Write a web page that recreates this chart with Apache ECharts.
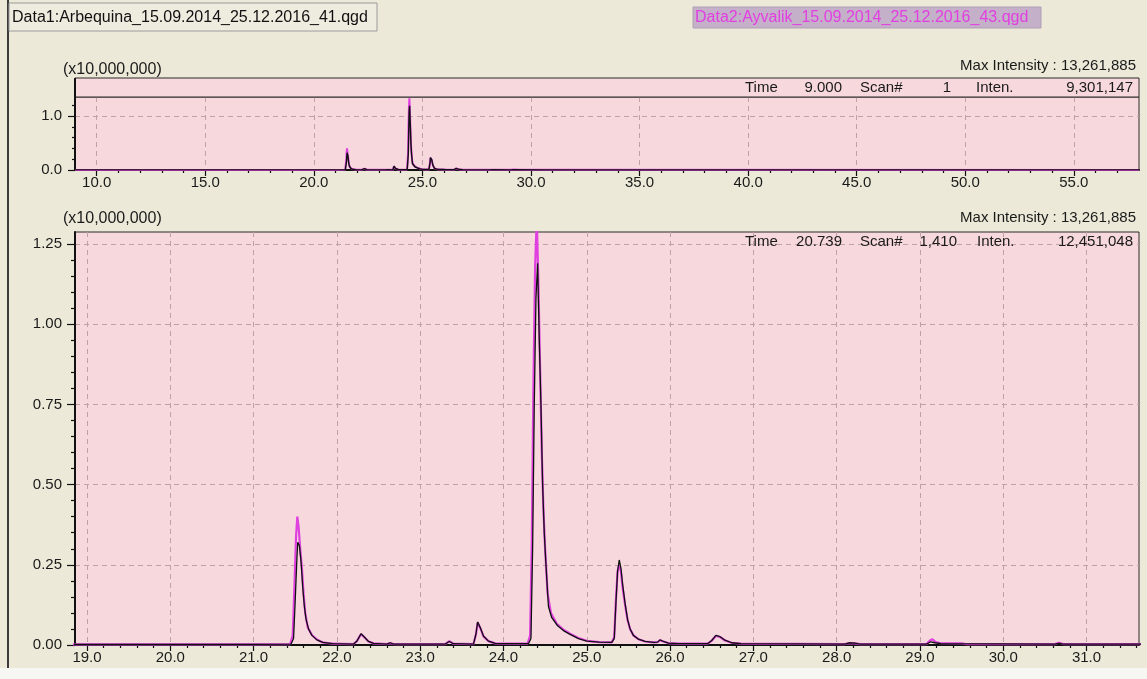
<!DOCTYPE html>
<html><head><meta charset="utf-8">
<script src="https://cdn.jsdelivr.net/npm/echarts@6/dist/echarts.min.js"></script>
<style>html,body{margin:0;padding:0;background:#ECE9D8;}#c{width:1147px;height:679px;}</style>
</head><body><div id="c"></div>
<script>
// Intensity in units of 10,000,000 ; time in minutes
const data1 = [ // Data1: Arbequina (black)
[9.0,0.002],[21.0,0.002],[21.45,0.003],[21.48,0.02],[21.50,0.14],[21.52,0.27],[21.53,0.32],[21.55,0.31],[21.57,0.26],[21.59,0.18],[21.61,0.12],[21.63,0.08],[21.66,0.05],[21.70,0.03],[21.76,0.016],[21.83,0.008],[21.95,0.004],
[22.20,0.003],[22.24,0.012],[22.29,0.035],[22.33,0.025],[22.38,0.011],[22.44,0.005],[22.60,0.003],[22.64,0.007],[22.68,0.003],
[23.30,0.003],[23.35,0.011],[23.40,0.004],[23.64,0.003],[23.67,0.035],[23.69,0.072],[23.72,0.055],[23.76,0.028],[23.82,0.012],[23.90,0.005],[24.30,0.004],
[24.33,0.02],[24.35,0.30],[24.37,0.75],[24.39,1.08],[24.41,1.19],[24.43,0.95],[24.45,0.75],[24.47,0.50],[24.49,0.35],[24.51,0.25],[24.54,0.12],[24.58,0.085],[24.65,0.06],[24.72,0.045],[24.80,0.033],[24.90,0.02],[25.00,0.012],[25.15,0.009],[25.30,0.008],
[25.33,0.02],[25.35,0.13],[25.37,0.23],[25.39,0.265],[25.41,0.24],[25.43,0.19],[25.46,0.13],[25.49,0.08],[25.52,0.05],[25.56,0.03],[25.62,0.018],[25.70,0.011],[25.80,0.008],
[25.85,0.009],[25.88,0.016],[25.92,0.011],[25.98,0.006],[26.10,0.004],[26.45,0.004],[26.50,0.014],[26.55,0.030],[26.60,0.026],[26.66,0.015],[26.74,0.007],[26.85,0.004],
[28.10,0.003],[28.15,0.007],[28.22,0.006],[28.28,0.003],[29.08,0.003],[29.13,0.010],[29.18,0.007],[29.25,0.004],[30.62,0.003],[30.67,0.005],[30.72,0.003],[58.0,0.002]
];
const data2 = [ // Data2: Ayvalik (magenta)
[9.0,0.002],[21.0,0.002],[21.44,0.003],[21.47,0.03],[21.49,0.18],[21.51,0.34],[21.525,0.40],[21.54,0.37],[21.56,0.30],[21.58,0.24],[21.60,0.16],[21.62,0.10],[21.65,0.055],[21.70,0.031],[21.76,0.017],[21.83,0.008],[21.95,0.004],
[22.20,0.003],[22.24,0.012],[22.29,0.034],[22.33,0.024],[22.38,0.011],[22.44,0.005],[22.60,0.003],[22.64,0.006],[22.68,0.003],
[23.30,0.003],[23.35,0.012],[23.40,0.004],[23.64,0.003],[23.67,0.033],[23.69,0.070],[23.72,0.054],[23.76,0.027],[23.82,0.012],[23.90,0.005],[24.29,0.004],
[24.32,0.03],[24.34,0.32],[24.36,0.82],[24.38,1.18],[24.40,1.33],[24.42,1.12],[24.44,0.86],[24.46,0.60],[24.48,0.42],[24.50,0.30],[24.53,0.16],[24.57,0.10],[24.64,0.066],[24.72,0.048],[24.80,0.035],[24.90,0.022],[25.00,0.013],[25.15,0.009],[25.30,0.008],
[25.33,0.025],[25.35,0.14],[25.37,0.23],[25.39,0.25],[25.41,0.23],[25.43,0.18],[25.46,0.125],[25.49,0.078],[25.52,0.05],[25.56,0.03],[25.62,0.018],[25.70,0.011],[25.80,0.008],
[25.85,0.009],[25.88,0.015],[25.92,0.011],[25.98,0.006],[26.10,0.004],[26.45,0.004],[26.50,0.013],[26.55,0.028],[26.60,0.025],[26.66,0.014],[26.74,0.007],[26.85,0.004],
[28.10,0.003],[28.15,0.006],[28.22,0.005],[28.28,0.003],[29.08,0.003],[29.12,0.014],[29.15,0.018],[29.19,0.009],[29.24,0.006],[29.50,0.005],[29.55,0.003],[30.62,0.003],[30.67,0.007],[30.72,0.003],[58.0,0.002]
];
const topXTicks = [10,15,20,25,30,35,40,45,50,55];
const topYTicks = [0,1.0];
const mainXTicks = [19,20,21,22,23,24,25,26,27,28,29,30,31];
const mainYTicks = [0,0.25,0.5,0.75,1.0,1.25];
const topRange = [9.0, 58.0], topYMax = 1.352;
const mainRange = [18.856, 31.63], mainYMax = 1.2875;

const topXMinor = []; for (let t = 10; t <= 57; t++) if (t % 5) topXMinor.push(t);
const mainXMinor = []; for (let i = 95; i <= 158; i++) if (i % 5) mainXMinor.push(+(i * 0.2).toFixed(1));
const topYMinor = [0.2,0.4,0.6,0.8,1.2];
const mainYMinor = []; for (let i = 1; i <= 25; i++) if (i % 5) mainYMinor.push(+(i * 0.05).toFixed(2));

const FONT = '"Liberation Sans", Arial, sans-serif';
const PINK = '#F7D8DC', GRIDC = '#BFA2A6', INK = '#1a1a1a';

function majorX(g, r, ticks) {
  return {type:'value', gridIndex:g, min:r[0], max:r[1], position:'bottom', offset:0,
    axisLine:{show:true, onZero:false, lineStyle:{color:'#111', width:2}},
    axisTick:{show:true, customValues:ticks, length:6, lineStyle:{color:'#111', width:1.2}},
    axisLabel:{show:true, customValues:ticks, formatter:v => v.toFixed(1), margin:5, color:INK, fontSize:15, fontFamily:FONT},
    splitLine:{show:true, lineStyle:{color:GRIDC, type:[5,4], width:1}}};
}
function minorX(g, r, ticks) {
  return {type:'value', gridIndex:g, min:r[0], max:r[1], position:'bottom', offset:0,
    axisLine:{show:false}, axisTick:{show:true, customValues:ticks, length:3, lineStyle:{color:'#111', width:1.2}},
    axisLabel:{show:false}, splitLine:{show:false}};
}
function majorY(g, max, ticks, dec, len) {
  return {type:'value', gridIndex:g, min:0, max:max, position:'left', offset:0,
    axisLine:{show:true, onZero:false, lineStyle:{color:'#111', width:2}},
    axisTick:{show:true, customValues:ticks, length:len, lineStyle:{color:'#111', width:1.2}},
    axisLabel:{show:true, customValues:ticks, formatter:v => v.toFixed(dec), margin:13, color:INK, fontSize:15, fontFamily:FONT},
    splitLine:{show:true, lineStyle:{color:GRIDC, type:[5,4], width:1}}};
}
function minorY(g, max, ticks, len) {
  return {type:'value', gridIndex:g, min:0, max:max, position:'left', offset:0,
    axisLine:{show:false}, axisTick:{show:true, customValues:ticks, length:len, lineStyle:{color:'#111', width:1.2}},
    axisLabel:{show:false}, splitLine:{show:false}};
}
function line(xi, yi, data, color, w, z) {
  return {type:'line', xAxisIndex:xi, yAxisIndex:yi, data:data, showSymbol:false, symbol:'none',
    lineStyle:{color:color, width:w}, itemStyle:{color:color}, z:z, clip:true, animation:false};
}
function txt(x, y, s, opt) {
  return Object.assign({type:'text', x:x, y:y, z:50, style:Object.assign({text:s, fill:INK, font:'15px ' + FONT, textVerticalAlign:'middle', verticalAlign:'middle'}, opt || {})});
}

const chart = echarts.init(document.getElementById('c'), null, {renderer:'canvas'});
chart.setOption({
  backgroundColor:'#ECE9D8',
  animation:false,
  grid:[
    {left:75, right:8, top:97, height:73, show:true, backgroundColor:PINK, borderColor:'#2a2a2a', borderWidth:1},
    {left:75, right:8, top:232, height:413, show:true, backgroundColor:PINK, borderColor:'#2a2a2a', borderWidth:1}
  ],
  xAxis:[majorX(0, topRange, topXTicks), minorX(0, topRange, topXMinor), majorX(1, mainRange, mainXTicks), minorX(1, mainRange, mainXMinor)],
  yAxis:[majorY(0, topYMax, topYTicks, 1, 7), minorY(0, topYMax, topYMinor, 3), majorY(1, mainYMax, mainYTicks, 2, 8), minorY(1, mainYMax, mainYMinor, 4)],
  series:[
    line(0, 0, data2, '#E040E0', 2, 2), line(0, 0, data1, '#111111', 1.4, 3),
    line(2, 2, data2, '#E040E0', 2.2, 2), line(2, 2, data1, '#111111', 1.3, 3)
  ],
  graphic:[
    {type:'rect', shape:{x:0, y:668, width:1147, height:11}, style:{fill:'#F6F6F3'}, z:1},
    {type:'line', shape:{x1:8, y1:0, x2:8, y2:668}, style:{stroke:'#3a3a3a', lineWidth:2}, z:40},
    {type:'rect', shape:{x:9, y:3, width:368, height:28}, style:{fill:'#EEEBDF', stroke:'#9a9a9a', lineWidth:1}, z:40},
    txt(12, 18, 'Data1:Arbequina_15.09.2014_25.12.2016_41.qgd', {font:'16px ' + FONT, fill:'#111'}),
    {type:'rect', shape:{x:693, y:7, width:348, height:21}, style:{fill:'#C4B0C9', stroke:'#B0A0B6', lineWidth:1}, z:40},
    txt(695, 18, 'Data2:Ayvalik_15.09.2014_25.12.2016_43.qgd', {font:'16px ' + FONT, fill:'#E23FE0'}),
    // top panel info strip
    {type:'rect', shape:{x:75, y:78, width:1064, height:19}, style:{fill:PINK, stroke:'#2a2a2a', lineWidth:1}, z:40},
    {type:'line', shape:{x1:75, y1:78, x2:75, y2:97}, style:{stroke:'#111', lineWidth:2}, z:41},
    txt(63, 70, '(x10,000,000)', {font:'16px ' + FONT}),
    txt(1136, 66, 'Max Intensity : 13,261,885', {textAlign:'right', align:'right'}),
    txt(745, 88, 'Time'), txt(842, 88, '9.000', {textAlign:'right', align:'right'}),
    txt(860, 88, 'Scan#'), txt(951, 88, '1', {textAlign:'right', align:'right'}),
    txt(976, 88, 'Inten.'), txt(1133, 88, '9,301,147', {textAlign:'right', align:'right'}),
    // bottom panel
    txt(63, 219, '(x10,000,000)', {font:'16px ' + FONT}),
    txt(1136, 218, 'Max Intensity : 13,261,885', {textAlign:'right', align:'right'}),
    txt(745, 242, 'Time'), txt(842, 242, '20.739', {textAlign:'right', align:'right'}),
    txt(860, 242, 'Scan#'), txt(957, 242, '1,410', {textAlign:'right', align:'right'}),
    txt(977, 242, 'Inten.'), txt(1133, 242, '12,451,048', {textAlign:'right', align:'right'})
  ]
});
</script></body></html>
